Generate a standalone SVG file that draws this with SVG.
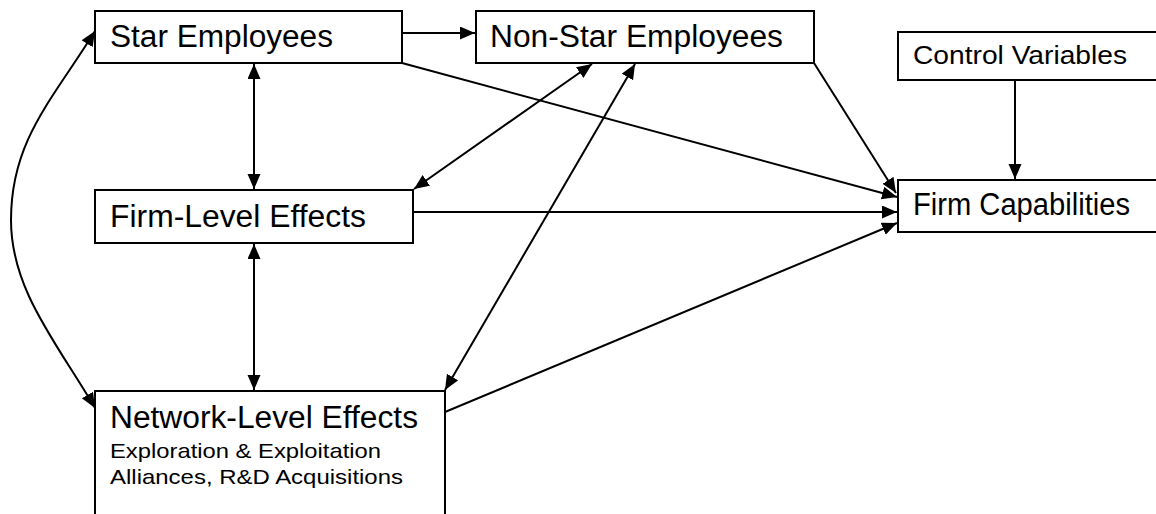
<svg xmlns="http://www.w3.org/2000/svg" width="1156" height="514" viewBox="0 0 1156 514">
<style>
.box{fill:#fff;stroke:#000;stroke-width:2}
.t{font-family:"Liberation Sans",Arial,sans-serif;fill:#000}
.big{font-size:31px}
.mid{font-size:26px}
.small{font-size:21px}
.c{fill:none;stroke:#000;stroke-width:2}
</style>
<defs>
<marker id="ah" markerUnits="userSpaceOnUse" markerWidth="16" markerHeight="14" refX="15" refY="6.5" orient="auto-start-reverse">
<path d="M0,0 L15,6.5 L0,13 z" fill="#000"/>
</marker>
</defs>
<rect width="1156" height="514" fill="#fff"/>
<g id="connectors">
<line class="c" x1="402" y1="33" x2="475" y2="33" marker-end="url(#ah)"/>
<line class="c" x1="254" y1="64" x2="254" y2="189" marker-start="url(#ah)" marker-end="url(#ah)"/>
<line class="c" x1="254" y1="244" x2="254" y2="390" marker-start="url(#ah)" marker-end="url(#ah)"/>
<line class="c" x1="402" y1="63" x2="897" y2="197" marker-end="url(#ah)"/>
<line class="c" x1="814" y1="63" x2="896" y2="193" marker-end="url(#ah)"/>
<line class="c" x1="413" y1="212" x2="897" y2="212" marker-end="url(#ah)"/>
<line class="c" x1="445" y1="412" x2="897" y2="223" marker-end="url(#ah)"/>
<line class="c" x1="1015" y1="81" x2="1015" y2="179" marker-end="url(#ah)"/>
<line class="c" x1="592" y1="64" x2="414" y2="189" marker-start="url(#ah)" marker-end="url(#ah)"/>
<line class="c" x1="635" y1="64" x2="445" y2="390" marker-start="url(#ah)" marker-end="url(#ah)"/>
<path class="c" d="M95,31 C53,99 11,140 11,220 C11,290 57,343 95,408" marker-start="url(#ah)" marker-end="url(#ah)"/>
</g>
<g id="star">
<rect class="box" x="95" y="11" width="307" height="52"/>
<text class="t big" x="110" y="47" textLength="223" lengthAdjust="spacingAndGlyphs">Star Employees</text>
</g>
<g id="nonstar">
<rect class="box" x="476" y="11" width="338" height="52"/>
<text class="t big" x="490" y="47" textLength="293" lengthAdjust="spacingAndGlyphs">Non-Star Employees</text>
</g>
<g id="control">
<rect class="box" x="898" y="32" width="280" height="48"/>
<text class="t mid" x="913" y="64" textLength="214" lengthAdjust="spacingAndGlyphs">Control Variables</text>
</g>
<g id="capabilities">
<rect class="box" x="898" y="180" width="280" height="52"/>
<text class="t big" x="913" y="215" textLength="217" lengthAdjust="spacingAndGlyphs">Firm Capabilities</text>
</g>
<g id="firmlevel">
<rect class="box" x="95" y="190" width="318" height="53"/>
<text class="t big" x="110" y="227" textLength="256" lengthAdjust="spacingAndGlyphs">Firm-Level Effects</text>
</g>
<g id="network">
<rect class="box" x="95" y="391" width="350" height="140"/>
<text class="t big" x="110" y="428" textLength="308" lengthAdjust="spacingAndGlyphs">Network-Level Effects</text>
<text class="t small" x="110" y="458" textLength="271" lengthAdjust="spacingAndGlyphs">Exploration &amp; Exploitation</text>
<text class="t small" x="110" y="484" textLength="293" lengthAdjust="spacingAndGlyphs">Alliances, R&amp;D Acquisitions</text>
</g>
</svg>
